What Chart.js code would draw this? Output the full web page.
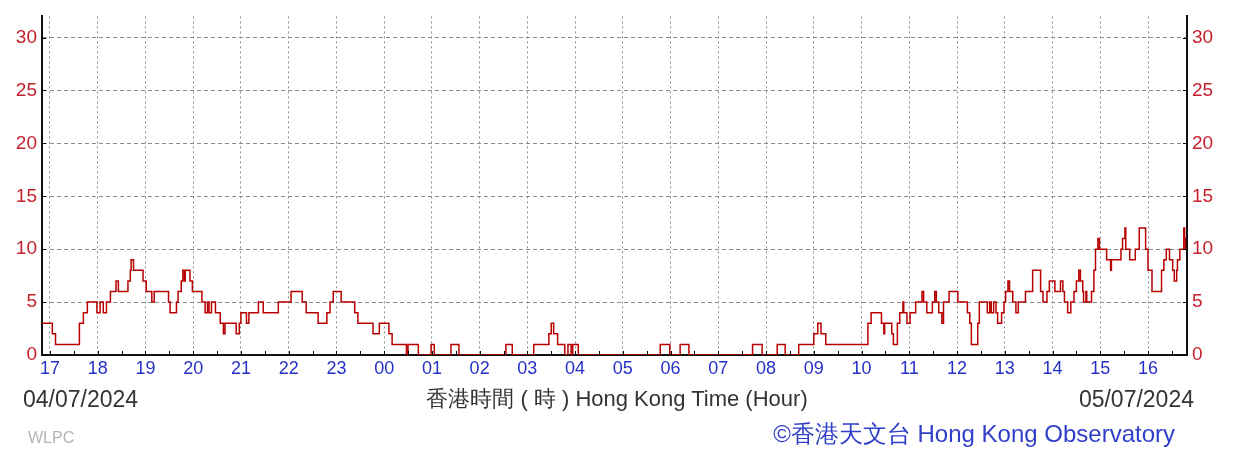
<!DOCTYPE html>
<html>
<head>
<meta charset="utf-8">
<script src="https://cdn.jsdelivr.net/npm/chart.js@4.4.1/dist/chart.umd.min.js"></script>
<style>
  html, body { margin: 0; padding: 0; background: #fff; }
  #wrap { position: relative; width: 1247px; height: 452px; overflow: hidden; }
  #wrap canvas { position: absolute; left: 0; top: 0; }
  .lbl { position: absolute; white-space: nowrap; font-family: "Liberation Sans", Arial, sans-serif; line-height: 1; }
</style>
</head>
<body>
<div id="wrap">
  <canvas id="windChart" width="1247" height="452"></canvas>
  <div class="lbl" style="left:23px; top:388px; font-size:23px; color:#333;">04/07/2024</div>
  <div class="lbl" style="left:617px; top:388px; font-size:22px; color:#333; transform:translateX(-50%);">香港時間 ( 時 ) Hong Kong Time (Hour)</div>
  <div class="lbl" style="right:53px; top:388px; font-size:23px; color:#333;">05/07/2024</div>
  <div class="lbl" style="left:28px; top:430px; font-size:16px; color:#b4b4b4;">WLPC</div>
  <div class="lbl" style="right:72px; top:422px; font-size:24px; color:#2f3fc8;">©香港天文台 Hong Kong Observatory</div>
</div>
<script>
// minutes after 17:00 on 04/07/2024, each value holds until the next time
const times = [
  -10, 3, 7, 37, 42, 47, 59, 63, 67, 71, 76, 83, 86, 98, 101, 102, 105, 117, 121, 128,
  131, 149, 151, 159, 161, 165, 167, 169, 170, 176, 179, 191, 195, 198, 200, 203, 208, 214, 218, 220,
  234, 238, 240, 247, 250, 262, 268, 287, 303, 317, 322, 337, 348, 352, 356, 366, 383, 387, 406, 414,
  426, 430, 448, 450, 463, 479, 483, 504, 514, 573, 581, 608, 627, 630, 633, 638, 647, 651, 655, 657,
  664, 767, 779, 792, 803, 883, 895, 914, 924, 941, 960, 965, 969, 975, 1028, 1032, 1045, 1048, 1049, 1058,
  1060, 1065, 1068, 1072, 1073, 1077, 1081, 1088, 1096, 1098, 1102, 1109, 1112, 1114, 1117, 1121, 1123, 1130, 1141, 1153,
  1156, 1158, 1166, 1168, 1178, 1181, 1183, 1186, 1189, 1191, 1196, 1199, 1201, 1204, 1206, 1210, 1214, 1217, 1226, 1235,
  1245, 1248, 1253, 1256, 1263, 1270, 1273, 1275, 1279, 1283, 1287, 1290, 1293, 1295, 1298, 1299, 1302, 1303, 1309, 1312,
  1314, 1317, 1319, 1328, 1333, 1334, 1346, 1348, 1351, 1352, 1357, 1364, 1369, 1377, 1380, 1385, 1397, 1400, 1403, 1407,
  1411, 1413, 1416, 1417, 1420, 1425, 1426, 1427, 1429
];
const speeds = [
  3, 2, 1, 3, 4, 5, 4, 5, 4, 5, 6, 7, 6, 7, 8, 9, 8, 7, 6, 5,
  6, 5, 4, 5, 6, 7, 8, 7, 8, 7, 6, 5, 4, 5, 4, 5, 4, 3, 2, 3,
  2, 3, 4, 3, 4, 5, 4, 5, 6, 5, 4, 3, 4, 5, 6, 5, 4, 3, 2, 3,
  2, 1, 0, 1, 0, 1, 0, 1, 0, 1, 0, 1, 2, 3, 2, 1, 0, 1, 0, 1,
  0, 1, 0, 1, 0, 1, 0, 1, 0, 1, 2, 3, 2, 1, 3, 4, 3, 2, 3, 2,
  1, 3, 4, 5, 4, 3, 4, 5, 6, 5, 4, 5, 6, 5, 4, 3, 5, 6, 5, 4,
  3, 1, 3, 5, 4, 5, 4, 5, 4, 3, 4, 5, 6, 7, 6, 5, 4, 5, 6, 8,
  6, 5, 6, 7, 6, 7, 6, 5, 4, 5, 6, 7, 8, 7, 6, 5, 6, 5, 6, 8,
  10, 11, 10, 9, 8, 9, 10, 11, 12, 10, 9, 10, 12, 10, 8, 6, 8, 9, 10, 9,
  8, 7, 8, 9, 10, 12, 11, 10, 10
];
const hourLabels = ['17','18','19','20','21','22','23','00','01','02','03','04',
                    '05','06','07','08','09','10','11','12','13','14','15','16'];
const yTicks = [0, 5, 10, 15, 20, 25, 30];

const RED = '#c4202e';
const BLUE = '#2430c8';
const GRID = '#8c8c8c';

// small inward tick marks on the axes, like the original
const innerTicks = {
  id: 'innerTicks',
  afterDraw(chart) {
    const { ctx, chartArea, scales } = chart;
    ctx.save();
    ctx.strokeStyle = '#000';
    ctx.lineWidth = 1;
    ctx.beginPath();
    for (let m = 0; m <= 1410; m += 30) {
      const x = Math.round(scales.x.getPixelForValue(m)) + 0.5;
      ctx.moveTo(x, chartArea.bottom);
      ctx.lineTo(x, chartArea.bottom - 4);
    }
    yTicks.forEach(v => {
      const y = Math.round(scales.y.getPixelForValue(v)) + 0.5;
      ctx.moveTo(chartArea.left, y);
      ctx.lineTo(chartArea.left + 4, y);
      ctx.moveTo(chartArea.right, y);
      ctx.lineTo(chartArea.right - 4, y);
    });
    ctx.stroke();
    ctx.restore();
  }
};

const ctx = document.getElementById('windChart').getContext('2d');
new Chart(ctx, {
  type: 'line',
  data: {
    datasets: [{
      data: times.map((t, i) => ({ x: t, y: speeds[i] })),
      borderColor: '#b80000',
      borderWidth: 1.5,
      pointRadius: 0,
      stepped: true,
      fill: false
    }]
  },
  options: {
    responsive: false,
    animation: false,
    layout: { padding: { top: 13, left: 0, right: 0, bottom: 0 } },
    plugins: { legend: { display: false }, tooltip: { enabled: false } },
    scales: {
      x: {
        type: 'linear',
        min: -10,
        max: 1429,
        afterBuildTicks: s => { s.ticks = hourLabels.map((h, i) => ({ value: i * 60 })); },
        afterFit: s => { s.height = 97; },
        ticks: {
          autoSkip: false,
          maxRotation: 0,
          padding: 3,
          color: BLUE,
          font: { family: 'Liberation Sans', size: 18 },
          callback: (v) => hourLabels[Math.round(v / 60)]
        },
        grid: { color: GRID, drawTicks: false, lineWidth: 1 },
        border: { display: true, color: '#111', width: 2, dash: [2, 3] }
      },
      y: {
        position: 'left',
        min: 0,
        max: 32,
        afterBuildTicks: s => { s.ticks = yTicks.map(v => ({ value: v })); },
        afterFit: s => { s.width = 42; },
        ticks: {
          padding: 5,
          color: RED,
          font: { family: 'Liberation Sans', size: 19 }
        },
        grid: { color: GRID, drawTicks: false, lineWidth: 1 },
        border: { display: true, color: '#111', width: 2, dash: [4, 3] }
      },
      y2: {
        position: 'right',
        min: 0,
        max: 32,
        afterBuildTicks: s => { s.ticks = yTicks.map(v => ({ value: v })); },
        afterFit: s => { s.width = 60; },
        ticks: {
          padding: 5,
          color: RED,
          font: { family: 'Liberation Sans', size: 19 }
        },
        grid: { display: false, drawTicks: false },
        border: { display: true, color: '#111', width: 2 }
      }
    }
  },
  plugins: [innerTicks]
});
</script>
</body>
</html>
